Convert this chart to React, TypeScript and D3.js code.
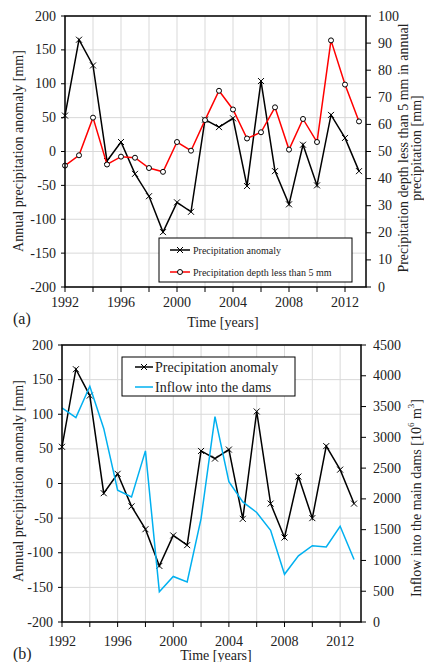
import React from "react";
import * as d3 from "d3";

const years = [1992, 1993, 1994, 1995, 1996, 1997, 1998, 1999, 2000, 2001, 2002, 2003, 2004, 2005, 2006, 2007, 2008, 2009, 2010, 2011, 2012, 2013];
const anomaly = [53, 165, 127, -14, 14, -33, -66, -119, -75, -89, 47, 36, 49, -51, 104, -29, -78, 10, -50, 54, 20, -29];
const depthLess5 = [44.8, 48.6, 62.5, 45.2, 48.1, 47.7, 43.9, 42.5, 53.5, 50.3, 61.6, 72.4, 65.5, 54.8, 57.1, 66.3, 50.7, 62.0, 53.5, 91.0, 74.7, 61.1];
const inflow = [3480, 3320, 3830, 3145, 2140, 2030, 2780, 490, 740, 650, 1680, 3335, 2280, 1950, 1780, 1490, 775, 1075, 1240, 1220, 1555, 1015];

const xLabelYears = [1992, 1996, 2000, 2004, 2008, 2012];
const gridYears = [1992, 1994, 1996, 1998, 2000, 2002, 2004, 2006, 2008, 2010, 2012];
const leftTicks = [-200, -150, -100, -50, 0, 50, 100, 150, 200];
const depthTicks = [0, 10, 20, 30, 40, 50, 60, 70, 80, 90, 100];
const inflowTicks = [0, 500, 1000, 1500, 2000, 2500, 3000, 3500, 4000, 4500];

const FONT = "'Liberation Serif', 'Times New Roman', serif";
const BLUE = "#00b0f0";

function XMark({ x, y }: { x: number; y: number }) {
  const s = 3;
  return (
    <path d={`M${x - s},${y - s}L${x + s},${y + s}M${x - s},${y + s}L${x + s},${y - s}`} stroke="#000" strokeWidth={1} fill="none" />
  );
}

type PanelProps = {
  left: number; right: number; top: number; bottom: number;
  rightDomain: [number, number]; rightTicks: number[];
  xLabelDy: number;
};

function Frame({ p, x, yL, yR, children }: { p: PanelProps; x: any; yL: any; yR: any; children?: React.ReactNode }) {
  return (
    <g>
      {gridYears.map((yr) => (
        <line key={"gx" + yr} x1={x(yr)} x2={x(yr)} y1={p.top} y2={p.bottom} stroke="#d9d9d9" strokeWidth={1} />
      ))}
      {leftTicks.map((t) => (
        <line key={"gy" + t} x1={p.left} x2={p.right} y1={yL(t)} y2={yL(t)} stroke="#d9d9d9" strokeWidth={1} />
      ))}
      {children}
      <rect x={p.left} y={p.top} width={p.right - p.left} height={p.bottom - p.top} fill="none" stroke="#000" strokeWidth={1.5} />
      {leftTicks.map((t) => (
        <g key={"lt" + t}>
          <line x1={p.left - 4} x2={p.left} y1={yL(t)} y2={yL(t)} stroke="#000" strokeWidth={1} />
          <text x={p.left - 9} y={yL(t)} textAnchor="end" dominantBaseline="central" fontSize={14} fill="#222">{t}</text>
        </g>
      ))}
      {p.rightTicks.map((t) => (
        <g key={"rt" + t}>
          <line x1={p.right} x2={p.right + 5} y1={yR(t)} y2={yR(t)} stroke="#000" strokeWidth={1} />
          <text x={p.right + 12} y={yR(t)} textAnchor="start" dominantBaseline="central" fontSize={14} fill="#222">{t}</text>
        </g>
      ))}
      {gridYears.map((yr) => (
        <line key={"xt" + yr} x1={x(yr)} x2={x(yr)} y1={p.bottom} y2={p.bottom + 5} stroke="#000" strokeWidth={1} />
      ))}
      {xLabelYears.map((yr) => (
        <text key={"xl" + yr} x={x(yr)} y={p.bottom + p.xLabelDy} textAnchor="middle" dominantBaseline="central" fontSize={14} fill="#222">{yr}</text>
      ))}
    </g>
  );
}

export default function App() {
  const pA: PanelProps = { left: 65, right: 366, top: 16, bottom: 287, rightDomain: [0, 100], rightTicks: depthTicks, xLabelDy: 15 };
  const pB: PanelProps = { left: 62, right: 361, top: 345, bottom: 622, rightDomain: [0, 4500], rightTicks: inflowTicks, xLabelDy: 19 };

  const xA = d3.scaleLinear().domain([1992, 2013.5]).range([pA.left, pA.right]);
  const yLA = d3.scaleLinear().domain([-200, 200]).range([pA.bottom, pA.top]);
  const yRA = d3.scaleLinear().domain(pA.rightDomain).range([pA.bottom, pA.top]);

  const xB = d3.scaleLinear().domain([1992, 2013.5]).range([pB.left, pB.right]);
  const yLB = d3.scaleLinear().domain([-200, 200]).range([pB.bottom, pB.top]);
  const yRB = d3.scaleLinear().domain(pB.rightDomain).range([pB.bottom, pB.top]);

  const lineA1 = d3.line<number>().x((_, i) => xA(years[i])).y((d) => yLA(d));
  const lineA2 = d3.line<number>().x((_, i) => xA(years[i])).y((d) => yRA(d));
  const lineB1 = d3.line<number>().x((_, i) => xB(years[i])).y((d) => yLB(d));
  const lineB2 = d3.line<number>().x((_, i) => xB(years[i])).y((d) => yRB(d));

  return (
    <svg width={424} height={662} style={{ position: "absolute", left: 0, top: 0, fontFamily: FONT }}>
      <rect width={424} height={662} fill="#fff" />
      {/* panel (a) */}
      <Frame p={pA} x={xA} yL={yLA} yR={yRA}>
        <path d={lineA1(anomaly) || ""} fill="none" stroke="#000" strokeWidth={1.5} />
        {anomaly.map((v, i) => <XMark key={i} x={xA(years[i])} y={yLA(v)} />)}
        <path d={lineA2(depthLess5) || ""} fill="none" stroke="#ff0000" strokeWidth={1.5} />
        {depthLess5.map((v, i) => (
          <circle key={i} cx={xA(years[i])} cy={yRA(v)} r={2.5} fill="#fff" stroke="#000" strokeWidth={1} />
        ))}
        <rect x={159} y={238} width={193} height={44} fill="#fff" stroke="#000" strokeWidth={1} />
        <line x1={170} x2={190} y1={250} y2={250} stroke="#000" strokeWidth={1.5} />
        <XMark x={180} y={250} />
        <text x={193} y={250} dominantBaseline="central" fontSize={10} fill="#222">Precipitation anomaly</text>
        <line x1={170} x2={190} y1={272} y2={272} stroke="#ff0000" strokeWidth={1.5} />
        <circle cx={180} cy={272} r={2.5} fill="#fff" stroke="#000" strokeWidth={1} />
        <text x={193} y={272} dominantBaseline="central" fontSize={10} fill="#222">Precipitation depth less than 5 mm</text>
      </Frame>
      <text transform="translate(18,151) rotate(-90)" textAnchor="middle" dominantBaseline="central" fontSize={14} fill="#222">Annual precipitation anomaly [mm]</text>
      <text transform="translate(403,148) rotate(-90)" textAnchor="middle" dominantBaseline="central" fontSize={14} fill="#222">Precipitation depth less than 5 mm in annual</text>
      <text transform="translate(416,148) rotate(-90)" textAnchor="middle" dominantBaseline="central" fontSize={14} fill="#222">precipitation [mm]</text>
      <text x={13} y={318} dominantBaseline="central" fontSize={16} fill="#222">(a)</text>
      <text x={223} y={322} textAnchor="middle" dominantBaseline="central" fontSize={14} fill="#222">Time [years]</text>

      {/* panel (b) */}
      <Frame p={pB} x={xB} yL={yLB} yR={yRB}>
        <path d={lineB1(anomaly) || ""} fill="none" stroke="#000" strokeWidth={1.5} />
        {anomaly.map((v, i) => <XMark key={i} x={xB(years[i])} y={yLB(v)} />)}
        <path d={lineB2(inflow) || ""} fill="none" stroke={BLUE} strokeWidth={1.5} />
        <rect x={122} y={357} width={173} height={39} fill="#fff" stroke="#000" strokeWidth={1} />
        <line x1={135} x2={153} y1={367} y2={367} stroke="#000" strokeWidth={1.5} />
        <XMark x={144} y={367} />
        <text x={155} y={367} dominantBaseline="central" fontSize={14} fill="#222">Precipitation anomaly</text>
        <line x1={135} x2={153} y1={387} y2={387} stroke={BLUE} strokeWidth={1.5} />
        <text x={155} y={387} dominantBaseline="central" fontSize={14} fill="#222">Inflow into the dams</text>
      </Frame>
      <text transform="translate(18,481) rotate(-90)" textAnchor="middle" dominantBaseline="central" fontSize={14} fill="#222">Annual precipitation anomaly [mm]</text>
      <text transform="translate(416,498) rotate(-90)" textAnchor="middle" dominantBaseline="central" fontSize={14} fill="#222">
        Inflow into the main dams [10<tspan fontSize={9} dy={-5}>6</tspan><tspan dy={5}> m</tspan><tspan fontSize={9} dy={-5}>3</tspan><tspan dy={5}>]</tspan>
      </text>
      <text x={13} y={653} dominantBaseline="central" fontSize={16} fill="#222">(b)</text>
      <text x={216} y={655} textAnchor="middle" dominantBaseline="central" fontSize={14} fill="#222">Time [years]</text>
    </svg>
  );
}
